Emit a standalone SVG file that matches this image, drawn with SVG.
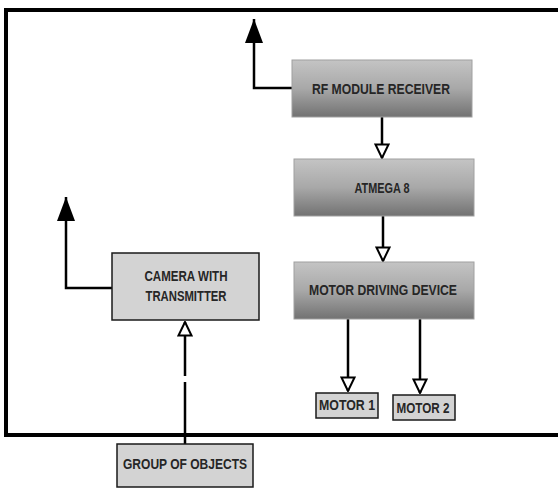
<svg xmlns="http://www.w3.org/2000/svg" width="558" height="488" viewBox="0 0 558 488">
<defs>
<linearGradient id="g" x1="0" y1="0" x2="0" y2="1">
<stop offset="0" stop-color="#c4c4c4"/>
<stop offset="0.5" stop-color="#a8a8a8"/>
<stop offset="1" stop-color="#727272"/>
</linearGradient>
<marker id="open" viewBox="0 0 16 16" refX="15" refY="8" markerWidth="16" markerHeight="16" markerUnits="userSpaceOnUse" orient="auto">
<path d="M1.5,1.5 L15,8 L1.5,14.5 Z" fill="#fff" stroke="#000" stroke-width="2"/>
</marker>
<marker id="solid" viewBox="0 0 24 18" refX="24" refY="9" markerWidth="24" markerHeight="18" markerUnits="userSpaceOnUse" orient="auto">
<path d="M0,0 L24,9 L0,18 Z" fill="#000"/>
</marker>
</defs>
<style>
.grad{fill:url(#g);stroke:#a0a0a0;stroke-width:1}
.plain{fill:#d3d3d3;stroke:#1a1a1a;stroke-width:1.5}
.t{font-family:"Liberation Sans",Arial,sans-serif;font-weight:bold;font-size:15px;fill:#262626;text-anchor:middle}
.c{fill:none;stroke:#000;stroke-width:2.5}
</style>
<path d="M558,10 H6 V435 H558" fill="none" stroke="#000" stroke-width="4"/>
<g id="connectors">
<path class="c" d="M292,88 H254 V19" marker-end="url(#solid)"/>
<path class="c" d="M382,117 V158" marker-end="url(#open)"/>
<path class="c" d="M383,216 V261" marker-end="url(#open)"/>
<path class="c" d="M348,319 V391" marker-end="url(#open)"/>
<path class="c" d="M420,319 V393" marker-end="url(#open)"/>
<path class="c" d="M112,288 H66 V197" marker-end="url(#solid)"/>
<path class="c" d="M185,444 V322" stroke-dasharray="62 6 200" marker-end="url(#open)"/>
</g>
<g id="rf">
<rect class="grad" x="292" y="60" width="180" height="57"/>
<text class="t" x="381" y="94" textLength="138" lengthAdjust="spacingAndGlyphs">RF MODULE RECEIVER</text>
</g>
<g id="atmega">
<rect class="grad" x="294" y="159" width="180" height="57"/>
<text class="t" x="382" y="193" textLength="55" lengthAdjust="spacingAndGlyphs">ATMEGA 8</text>
</g>
<g id="mdd">
<rect class="grad" x="294" y="262" width="180" height="57"/>
<text class="t" x="383" y="295" textLength="148" lengthAdjust="spacingAndGlyphs">MOTOR DRIVING DEVICE</text>
</g>
<g id="motor1">
<rect class="plain" x="316" y="393" width="62" height="25"/>
<text class="t" x="347" y="410" textLength="56" lengthAdjust="spacingAndGlyphs">MOTOR 1</text>
</g>
<g id="motor2">
<rect class="plain" x="393" y="395" width="62" height="25"/>
<text class="t" x="423" y="413" textLength="53" lengthAdjust="spacingAndGlyphs">MOTOR 2</text>
</g>
<g id="camera">
<rect class="plain" x="112" y="253" width="147" height="67"/>
<text class="t" x="186" y="281" textLength="83" lengthAdjust="spacingAndGlyphs">CAMERA WITH</text>
<text class="t" x="186" y="301" textLength="81" lengthAdjust="spacingAndGlyphs">TRANSMITTER</text>
</g>
<g id="group">
<rect class="plain" x="117" y="444" width="136" height="43"/>
<text class="t" x="185" y="469" textLength="124" lengthAdjust="spacingAndGlyphs">GROUP OF OBJECTS</text>
</g>
</svg>
